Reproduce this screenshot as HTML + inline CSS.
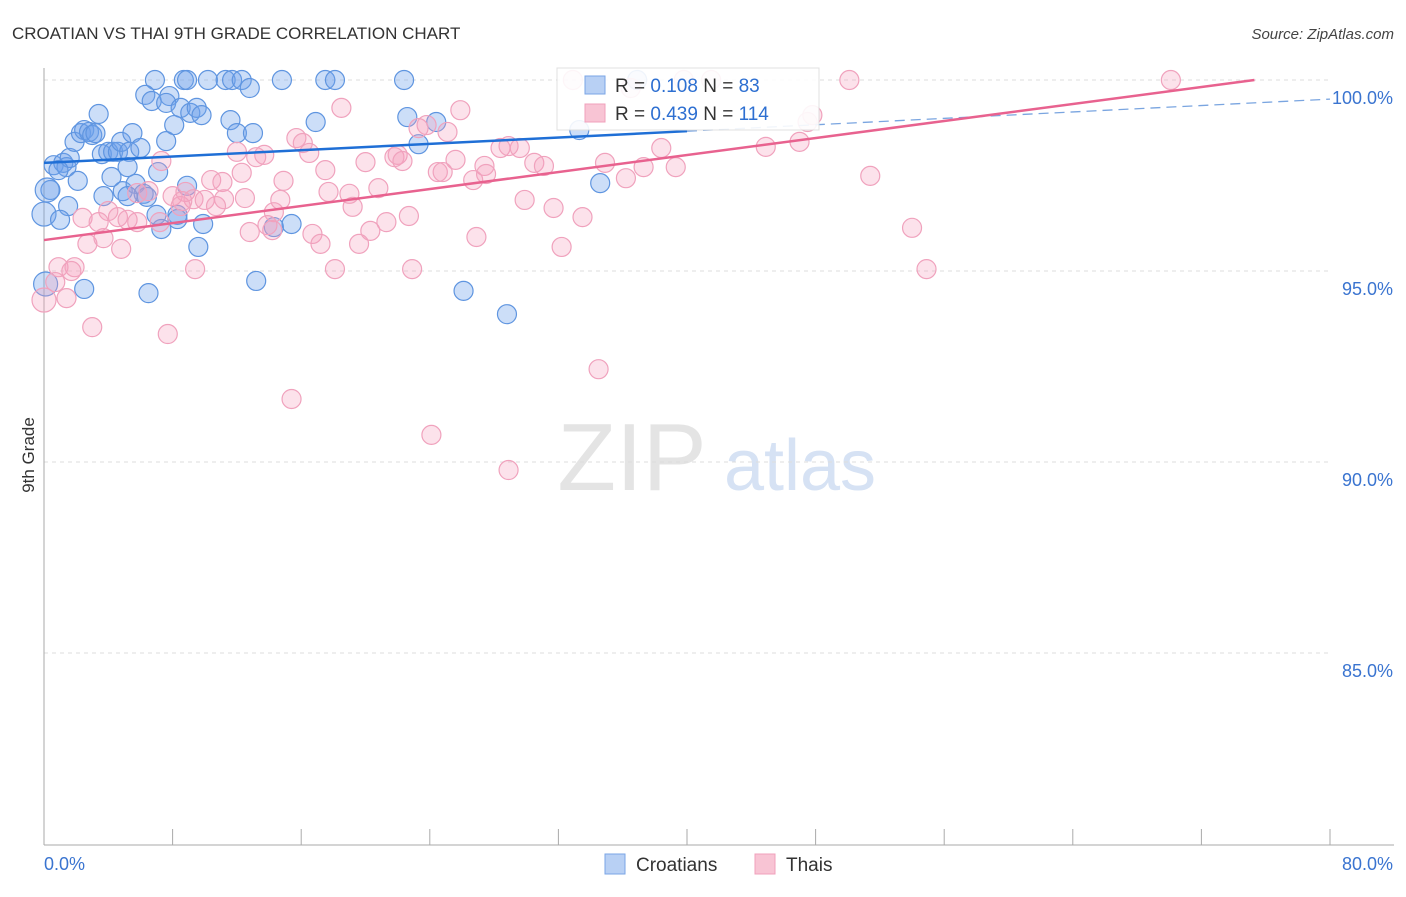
<!DOCTYPE html>
<html><head><meta charset="utf-8"><style>
body{margin:0;background:#fff;font-family:"Liberation Sans",sans-serif}
svg text{font-family:"Liberation Sans",sans-serif}
</style></head><body>
<svg id="chart" width="1406" height="892" viewBox="0 0 1406 892" xmlns="http://www.w3.org/2000/svg">
<text x="12" y="39" font-size="17" fill="#333">CROATIAN VS THAI 9TH GRADE CORRELATION CHART</text>
<text x="1394" y="39" font-size="15" fill="#444" text-anchor="end" font-style="italic">Source: ZipAtlas.com</text>
<g>
<text x="632" y="490" font-size="96" fill="#e4e4e4" text-anchor="middle" font-family="Liberation Serif">ZIP</text>
<text x="800" y="490" font-size="72" fill="#d6e2f4" text-anchor="middle">atlas</text>
</g>
<g id="grid"></g>
<g id="axes"></g>
<g id="points"></g>
<g id="trends"></g>
<text transform="translate(34,455) rotate(-90)" font-size="17" fill="#333" text-anchor="middle">9th Grade</text>
<text x="44" y="870" font-size="18" fill="#3a74d0">0.0%</text>
<text x="1393" y="870" font-size="18" fill="#3a74d0" text-anchor="end">80.0%</text>
<g>
<rect x="557" y="68" width="262" height="62" fill="#fff" stroke="#ddd" opacity="0.9"/>
<rect x="585" y="76" width="20" height="18" fill="#b8d0f4" stroke="#7aa5e6"/>
<rect x="585" y="104" width="20" height="18" fill="#f8c4d4" stroke="#f0a0bb"/>
<text x="615" y="92" font-size="19" fill="#333">R = <tspan fill="#2d6fd1">0.108</tspan>   N = <tspan fill="#2d6fd1"> 83</tspan></text>
<text x="615" y="120" font-size="19" fill="#333">R = <tspan fill="#2d6fd1">0.439</tspan>   N = <tspan fill="#2d6fd1">114</tspan></text>
</g>
<g>
<rect x="605" y="854" width="20" height="20" fill="#b8d0f4" stroke="#7aa5e6"/>
<text x="636" y="871" font-size="19" fill="#333">Croatians</text>
<rect x="755" y="854" width="20" height="20" fill="#f8c4d4" stroke="#f0a0bb"/>
<text x="786" y="871" font-size="19" fill="#333">Thais</text>
</g>
</svg>
<script>
const yTicks=[100,95,90,85];
const yTickLabels=["100.0%","95.0%","90.0%","85.0%"];
const xTicks=[0,8,16,24,32,40,48,56,64,72,80];
const croatians=[[6.9,100],[8.7,100],[8.9,100],[10.2,100],[11.3,100],[11.7,100],[12.3,100],[14.8,100],[17.5,100],[18.1,100],[22.4,100],[36.9,100],[6.3,99.61],[6.7,99.45],[7.8,99.58],[7.6,99.40],[8.5,99.27],[9.1,99.14],[9.5,99.27],[9.8,99.08],[12.8,99.79],[11.6,98.95],[12.0,98.61],[13.0,98.61],[16.9,98.90],[22.6,99.03],[24.4,98.90],[3.4,99.11],[0.6,97.77],[1.2,97.83],[1.4,97.72],[1.6,97.96],[0.9,97.64],[1.9,98.38],[2.3,98.61],[2.5,98.69],[2.8,98.64],[3.0,98.56],[3.2,98.61],[3.6,98.06],[4.0,98.12],[4.3,98.12],[4.6,98.12],[4.8,98.38],[5.3,98.12],[5.5,98.61],[6.0,98.22],[7.6,98.40],[8.1,98.82],[2.1,97.36],[0.4,97.12],[1.5,96.70],[3.7,96.96],[4.2,97.46],[4.9,97.09],[5.2,97.72],[5.7,97.28],[6.2,97.02],[7.1,97.59],[5.2,96.96],[6.4,96.94],[7.0,96.47],[7.3,96.10],[8.3,96.47],[8.3,96.36],[8.9,97.23],[9.9,96.23],[9.6,95.63],[14.3,96.15],[15.4,96.23],[13.2,94.74],[2.5,94.53],[6.5,94.42],[26.1,94.48],[28.8,93.87],[34.6,97.30],[33.3,98.69],[23.3,98.32],[0,96.49],[0.2,97.12],[0.1,94.66],[1.0,96.34]];
const thais=[[32.9,100],[39.8,100],[41.5,100],[50.1,100],[70.1,100],[36.5,99.79],[47.8,99.08],[47.5,98.90],[25.9,99.21],[18.5,99.27],[23.3,98.74],[23.8,98.82],[25.1,98.64],[15.7,98.48],[16.1,98.35],[16.5,98.09],[12.0,98.12],[13.7,98.04],[13.2,97.98],[7.3,97.88],[20.0,97.85],[21.8,97.98],[22.0,98.04],[22.3,97.88],[25.6,97.91],[27.4,97.75],[28.4,98.22],[28.9,98.27],[29.6,98.22],[30.5,97.83],[31.1,97.75],[34.9,97.83],[37.3,97.72],[38.4,98.22],[39.3,97.72],[44.9,98.25],[47.0,98.38],[51.4,97.49],[5.8,97.04],[6.5,97.09],[8.0,96.96],[8.8,97.07],[9.3,96.88],[10.0,96.86],[10.4,97.38],[11.1,97.33],[11.2,96.88],[10.7,96.70],[12.3,97.57],[12.5,96.91],[14.9,97.36],[14.7,96.86],[14.3,96.54],[17.7,97.07],[19.0,97.02],[20.8,97.17],[17.5,97.64],[19.2,96.68],[20.3,96.05],[21.3,96.28],[22.7,96.44],[24.5,97.59],[24.8,97.59],[26.7,97.38],[27.5,97.54],[29.9,96.86],[31.7,96.65],[33.5,96.41],[36.2,97.43],[4.0,96.57],[4.6,96.41],[2.4,96.39],[3.4,96.28],[5.2,96.34],[5.8,96.28],[7.2,96.28],[8.5,96.70],[8.6,96.83],[12.8,96.02],[13.9,96.20],[14.2,96.07],[16.7,95.97],[17.2,95.71],[19.6,95.71],[26.9,95.89],[32.2,95.63],[54.0,96.13],[4.8,95.58],[2.7,95.71],[3.7,95.86],[0.9,95.10],[1.9,95.10],[1.7,95.00],[18.1,95.05],[22.9,95.05],[9.4,95.05],[54.9,95.05],[0,94.24],[1.4,94.29],[3.0,93.53],[7.7,93.35],[15.4,91.65],[24.1,90.71],[28.9,89.79],[34.5,92.43],[0.7,94.71]];
const blueTrend=[[0,97.83],[40,98.66],[80,99.5]];
const pinkTrend=[[0,95.81],[75.3,100]];
const X=v=>44+v*(1286/80);
const Y=v=>80+(100-v)*38.2;
const NS="http://www.w3.org/2000/svg";
function mk(tag,parent,attrs){const e=document.createElementNS(NS,tag);for(const k in attrs)e.setAttribute(k,attrs[k]);document.getElementById(parent).appendChild(e);return e;}
yTicks.forEach((t,i)=>{
 const l=mk('line','grid',{x1:44,x2:1330,y1:Y(t),y2:Y(t),stroke:'#ddd','stroke-dasharray':'4,4'});
 
 
 const tx=mk('text','grid',{x:1393,y:Y(t)+24,'font-size':18,fill:'#3a74d0','text-anchor':'end'});
 tx.textContent=yTickLabels[i];
 
 
});
const ya=mk('line','axes',{x1:44,x2:44,y1:68,y2:845,stroke:'#aaa'});


const xa=mk('line','axes',{x1:44,x2:1394,y1:845,y2:845,stroke:'#aaa'});


xTicks.forEach(t=>{
 const l=mk('line','axes',{x1:X(t),x2:X(t),y1:829,y2:845,stroke:'#aaa'});
 
 
});
croatians.forEach(p=>{
 const c=mk('circle','points',{cx:X(p[0]),cy:Y(p[1]),r:p[0]<0.3?12:9.5,fill:'rgba(110,160,235,0.35)',stroke:'#5f95e0','stroke-width':1.2});
 
 
});
thais.forEach(p=>{
 const c=mk('circle','points',{cx:X(p[0]),cy:Y(p[1]),r:p[0]<0.3?12:9.5,fill:'rgba(245,160,190,0.3)',stroke:'#f0a2bd','stroke-width':1.2});
 
 
});
const bs=mk('line','trends',{x1:X(blueTrend[0][0]),y1:Y(blueTrend[0][1]),x2:X(blueTrend[1][0]),y2:Y(blueTrend[1][1]),stroke:'#1f6fd6','stroke-width':2.5});


const bd=mk('line','trends',{x1:X(blueTrend[1][0]),y1:Y(blueTrend[1][1]),x2:X(blueTrend[2][0]),y2:Y(blueTrend[2][1]),stroke:'#7aa5e0','stroke-width':1.3,'stroke-dasharray':'10,6'});


const pl=mk('line','trends',{x1:X(pinkTrend[0][0]),y1:Y(pinkTrend[0][1]),x2:X(pinkTrend[1][0]),y2:Y(pinkTrend[1][1]),stroke:'#e8628f','stroke-width':2.5});


</script>
</body></html>
